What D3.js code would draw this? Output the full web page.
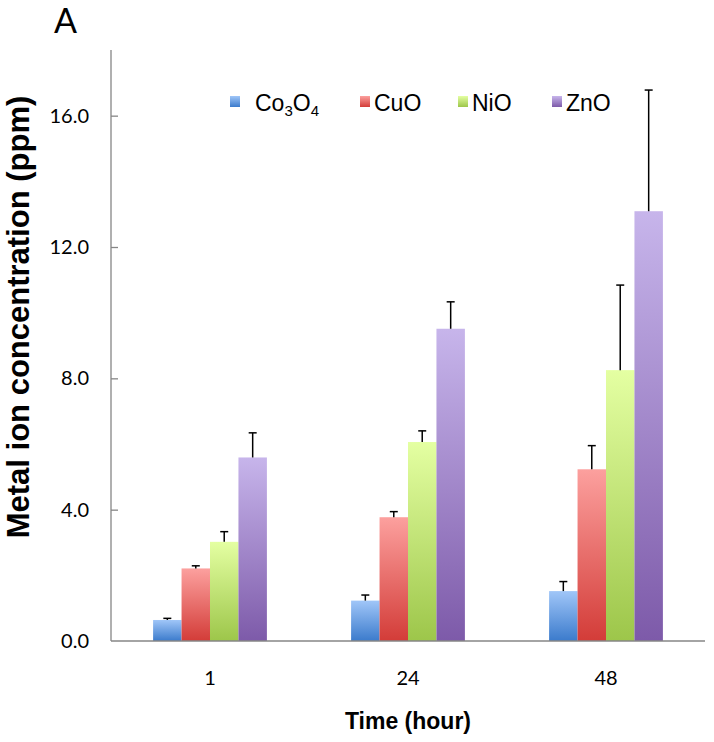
<!DOCTYPE html>
<html><head><meta charset="utf-8">
<script src="https://cdn.jsdelivr.net/npm/d3@7"></script>
<style>body{margin:0;background:#fff}svg{display:block}</style>
</head><body>
<svg id="c" width="714" height="742"></svg>
<script>
const categories = ["1", "24", "48"];
const series = ["Co3O4", "CuO", "NiO", "ZnO"];
const co3o4 = [0.64, 1.23, 1.52];
const cuo = [2.21, 3.77, 5.23];
const nio = [3.02, 6.06, 8.25];
const zno = [5.59, 9.51, 13.09];
const co3o4Err = [0.05, 0.17, 0.29];
const cuoErr = [0.08, 0.17, 0.72];
const nioErr = [0.31, 0.34, 2.59];
const znoErr = [0.75, 0.82, 3.69];
const yTicks = [0, 4, 8, 12, 16];

(function () {
const values = [co3o4, cuo, nio, zno];
const errs = [co3o4Err, cuoErr, nioErr, znoErr];
const grads = [["#a0c6f8", "#3b7bcc"], ["#fca09e", "#d33c38"], ["#e4ffa2", "#9dc64a"], ["#c7b5eb", "#7d5aa9"]];

const svg = d3.select("#c");
const defs = svg.append("defs");
grads.forEach((g, i) => {
  const lg = defs.append("linearGradient").attr("id", "g" + i)
    .attr("x1", 0).attr("y1", 0).attr("x2", 0).attr("y2", 1);
  lg.append("stop").attr("offset", "0%").attr("stop-color", g[0]);
  lg.append("stop").attr("offset", "100%").attr("stop-color", g[1]);
});

const mLeft = 111, mRight = 705, mTop = 50, mBottom = 641;
const y = d3.scaleLinear().domain([0, 18]).range([mBottom, mTop]);
const x0 = d3.scaleBand().domain(categories).range([mLeft, mRight]).padding(0);
const x1 = d3.scaleBand().domain(series).range([0, x0.bandwidth()]).paddingInner(0).paddingOuter(1.48);

const data = [];
categories.forEach((c, ci) => series.forEach((s, si) => data.push({c, s, si, v: values[si][ci], e: errs[si][ci]})));

const g = svg.append("g");
g.selectAll("rect.bar").data(data).enter().append("rect")
  .attr("class", "bar")
  .attr("x", d => x0(d.c) + x1(d.s))
  .attr("width", x1.bandwidth())
  .attr("y", d => y(d.v))
  .attr("height", d => y(0) - y(d.v))
  .attr("fill", d => `url(#g${d.si})`);

const eb = g.selectAll("g.err").data(data).enter().append("g").attr("class", "err");
eb.append("line")
  .attr("x1", d => x0(d.c) + x1(d.s) + x1.bandwidth() / 2)
  .attr("x2", d => x0(d.c) + x1(d.s) + x1.bandwidth() / 2)
  .attr("y1", d => y(d.v)).attr("y2", d => y(d.v + d.e))
  .attr("stroke", "#000").attr("stroke-width", 1.5);
eb.append("line")
  .attr("x1", d => x0(d.c) + x1(d.s) + x1.bandwidth() / 2 - 4)
  .attr("x2", d => x0(d.c) + x1(d.s) + x1.bandwidth() / 2 + 4)
  .attr("y1", d => y(d.v + d.e)).attr("y2", d => y(d.v + d.e))
  .attr("stroke", "#000").attr("stroke-width", 1.5);

// y axis
const yAxis = d3.axisLeft(y).tickValues(yTicks).tickFormat(d3.format(".1f")).tickSize(-7).tickPadding(22);
const ya = svg.append("g").attr("transform", `translate(${mLeft},0)`).call(yAxis);
ya.select(".domain").remove();
ya.selectAll(".tick line").attr("stroke", "#868686").attr("stroke-width", 1.3);
ya.selectAll(".tick text").attr("font-family", "Lato").attr("font-size", 20).attr("fill", "#000");
ya.selectAll(".tick").filter(d => d === 0).select("line").remove();
svg.append("line").attr("x1", mLeft).attr("x2", mLeft).attr("y1", mTop).attr("y2", mBottom)
  .attr("stroke", "#868686").attr("stroke-width", 1.3);

// x axis
const xAxis = d3.axisBottom(x0).tickSize(0).tickPadding(30);
const xa = svg.append("g").attr("transform", `translate(0,${mBottom})`).call(xAxis);
xa.select(".domain").remove();
xa.selectAll(".tick text").attr("font-family", "Lato").attr("font-size", 20).attr("fill", "#000");
svg.append("line").attr("x1", mLeft).attr("x2", mRight).attr("y1", mBottom).attr("y2", mBottom)
  .attr("stroke", "#868686").attr("stroke-width", 1.3);

// titles
svg.append("text").attr("x", 408).attr("y", 729).attr("text-anchor", "middle")
  .attr("font-family", "Liberation Sans, Arial").attr("font-weight", "bold").attr("font-size", 23)
  .text("Time (hour)");
svg.append("text").attr("transform", "translate(29,317) rotate(-90)").attr("text-anchor", "middle")
  .attr("font-family", "Liberation Sans, Arial").attr("font-weight", "bold").attr("font-size", 31)
  .text("Metal ion concentration (ppm)");
svg.append("text").attr("x", 54).attr("y", 33)
  .attr("font-family", "Lato").attr("font-size", 34).text("A");

// legend
const legX = [230, 360, 458, 552];
const leg = svg.append("g");
series.forEach((s, i) => {
  leg.append("rect").attr("x", legX[i]).attr("y", 96).attr("width", 10).attr("height", 11)
    .attr("fill", `url(#g${i})`);
  const t = leg.append("text").attr("x", legX[i] + (i === 0 ? 25 : 14)).attr("y", 111)
    .attr("font-family", "Liberation Sans, Arial").attr("font-size", 23).attr("fill", "#000");
  if (s === "Co3O4") {
    t.append("tspan").text("Co");
    t.append("tspan").attr("font-size", 15).attr("dy", 5).text("3");
    t.append("tspan").attr("dy", -5).text("O");
    t.append("tspan").attr("font-size", 15).attr("dy", 5).text("4");
  } else {
    t.text(s);
  }
});
})();
</script>
</body></html>
